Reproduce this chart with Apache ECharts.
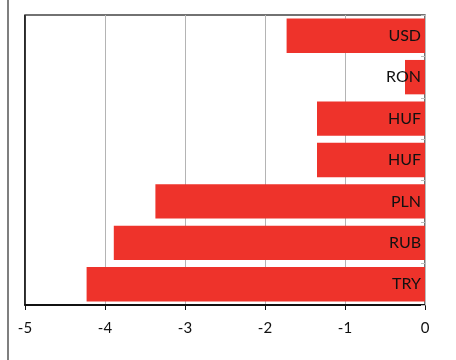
<!DOCTYPE html>
<html>
<head>
<meta charset="utf-8">
<script src="https://cdn.jsdelivr.net/npm/echarts@6/dist/echarts.min.js"></script>
<style>html,body{margin:0;padding:0;background:#fff}#c{width:456px;height:360px}</style>
</head>
<body>
<div id="c"></div>
<script>
var categories = ['USD', 'RON', 'HUF', 'HUF', 'PLN', 'RUB', 'TRY'];
var values = [-1.73, -0.25, -1.35, -1.35, -3.37, -3.89, -4.23];
var xTicks = [-5, -4, -3, -2, -1, 0];

var chart = echarts.init(document.getElementById('c'), null, {renderer: 'canvas'});
chart.setOption({
  animation: false,
  backgroundColor: '#fff',
  grid: {left: 25, right: 31, top: 15, bottom: 55, show: true, borderColor: '#444', borderWidth: 1.5},
  xAxis: {
    type: 'value', min: xTicks[0], max: xTicks[xTicks.length - 1], interval: 1,
    axisLine: {show: true, onZero: false, lineStyle: {color: '#111', width: 2}},
    axisTick: {show: true, length: 5, lineStyle: {color: '#111'}},
    axisLabel: {color: '#111', fontSize: 15, fontFamily: 'Lato', margin: 16},
    splitLine: {show: true, lineStyle: {color: '#b4b4b4', width: 1}}
  },
  yAxis: {
    type: 'category', data: categories, inverse: true, position: 'right', z: 10,
    axisLine: {show: true, lineStyle: {color: '#bbb', width: 1}},
    axisTick: {show: true, inside: true, length: 4, lineStyle: {color: '#bbb'}},
    axisLabel: {inside: true, color: '#111', fontSize: 16, fontFamily: 'Lato', margin: 4},
    splitLine: {show: false}
  },
  series: [{
    type: 'bar', data: values, barCategoryGap: '17%',
    itemStyle: {color: '#ee332b'}
  }],
  graphic: [{
    type: 'line', shape: {x1: 8, y1: 0, x2: 8, y2: 360},
    style: {stroke: '#555', lineWidth: 1.5}
  }, {
    type: 'line', shape: {x1: 25, y1: 15, x2: 25, y2: 305},
    style: {stroke: '#111', lineWidth: 1.5}, z: 5
  }]
});
</script>
</body>
</html>
